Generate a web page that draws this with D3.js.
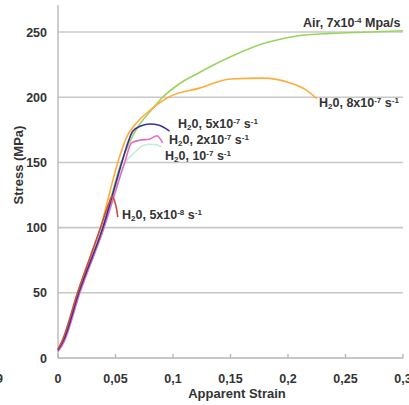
<!DOCTYPE html>
<html>
<head>
<meta charset="utf-8">
<title>Stress vs apparent strain</title>
<script src="https://d3js.org/d3.v7.min.js"></script>
<style>
body { margin: 0; background: #fff; }
text { font-family: "Liberation Sans", Arial, sans-serif; font-weight: bold; fill: #333; }
.grid { stroke: #c8c8c8; stroke-width: 1.6px; }
.axisline { stroke: #b4b4b4; stroke-width: 1.3px; fill: none; }
.curve { fill: none; stroke-width: 1.6px; }
</style>
</head>
<body>
<script>
// tick values
var xTicks = [0, 0.05, 0.1, 0.15, 0.2, 0.25, 0.3];
var xTickLabels = ["0", "0,05", "0,1", "0,15", "0,2", "0,25", "0,3"];
var yTicks = [0, 50, 100, 150, 200, 250];

// curves: [strain, stress MPa]
var airData = [[0,6],[0.005,14],[0.018,50],[0.039,100],[0.055,150],[0.062,165],[0.07,178],[0.08,189],[0.091,200],[0.105,210],[0.123,219],[0.15,231],[0.178,241],[0.208,247],[0.237,249],[0.271,250],[0.3,251]];
var h8e7Data = [[0,5],[0.004,12],[0.017,50],[0.037,100],[0.052,150],[0.06,170],[0.068,180],[0.08,190],[0.096,200],[0.123,207],[0.15,214],[0.178,214.7],[0.202,211],[0.215,206],[0.225,199]];
var h1e7Data = [[0,5],[0.005,12],[0.019,50],[0.04,100],[0.057,148],[0.067,158],[0.074,163],[0.08,164],[0.086,163.5],[0.09,162]];
var h2e7Data = [[0,5],[0.005,12],[0.019,50],[0.04,100],[0.058,150],[0.064,165],[0.071,167],[0.08,168],[0.086,170.5],[0.091,165]];
var h5e7Data = [[0,6],[0.005,14],[0.018,50],[0.039,100],[0.0555,150],[0.06,163],[0.065,174],[0.072,178],[0.08,179.5],[0.088,178.5],[0.097,174]];
var h5e8Data = [[0,7],[0.003,12],[0.017,50],[0.037,100],[0.044,118],[0.047,124],[0.049,121],[0.051,114],[0.052,108]];

var series = [
  {data: airData, color: "#9bd45c"},
  {data: h8e7Data, color: "#ffac3e"},
  {data: h1e7Data, color: "#c3eed6"},
  {data: h2e7Data, color: "#e36cc6"},
  {data: h5e7Data, color: "#3b2f94"},
  {data: h5e8Data, color: "#c9503a"}
];

// curve labels, split into plain / sub / sup pieces
var labels = [
  {x: 303, y: 27, parts: [["Air, 7x10",""],["-4","sup"],[" Mpa/s",""]]},
  {x: 319, y: 107, parts: [["H",""],["2","sub"],["0, 8x10",""],["-7","sup"],[" s",""],["-1","sup"]]},
  {x: 178, y: 128, parts: [["H",""],["2","sub"],["0, 5x10",""],["-7","sup"],[" s",""],["-1","sup"]]},
  {x: 169, y: 144, parts: [["H",""],["2","sub"],["0, 2x10",""],["-7","sup"],[" s",""],["-1","sup"]]},
  {x: 165, y: 160, parts: [["H",""],["2","sub"],["0, 10",""],["-7","sup"],[" s",""],["-1","sup"]]},
  {x: 122, y: 219, parts: [["H",""],["2","sub"],["0, 5x10",""],["-8","sup"],[" s",""],["-1","sup"]]}
];

var width = 409, height = 405;
var svg = d3.select("body").append("svg")
  .attr("width", width).attr("height", height);

var x = d3.scaleLinear().domain([0, 0.3]).range([58, 403]);
var y = d3.scaleLinear().domain([0, 270]).range([358, 6]);

// gridlines
svg.selectAll(".grid").data(yTicks.slice(1)).enter().append("line")
  .attr("class", "grid")
  .attr("x1", x(0)).attr("x2", x(0.3))
  .attr("y1", function(d){ return y(d); }).attr("y2", function(d){ return y(d); });

// axes
svg.append("line").attr("class", "axisline")
  .attr("x1", x(0)).attr("x2", x(0)).attr("y1", y(0)).attr("y2", 5);
svg.append("line").attr("class", "axisline")
  .attr("x1", x(0)).attr("x2", x(0.3)).attr("y1", y(0)).attr("y2", y(0));
svg.selectAll(".xtick").data(xTicks).enter().append("line")
  .attr("class", "axisline")
  .attr("x1", function(d){ return x(d); }).attr("x2", function(d){ return x(d); })
  .attr("y1", y(0)).attr("y2", y(0) - 4);

svg.selectAll(".ylab").data(yTicks).enter().append("text")
  .attr("x", 47).attr("y", function(d){ return y(d) + 4.5; })
  .attr("text-anchor", "end").style("font-size", "12.5px")
  .text(function(d){ return d; });

svg.selectAll(".xlab").data(xTicks).enter().append("text")
  .attr("x", function(d){ return x(d); }).attr("y", 383)
  .attr("text-anchor", "middle").style("font-size", "12.5px")
  .text(function(d, i){ return xTickLabels[i]; });

// clipped label at the left edge
svg.append("text").attr("x", -4).attr("y", 383).style("font-size", "12.5px").text("9");

svg.append("text").attr("x", 237).attr("y", 398)
  .attr("text-anchor", "middle").style("font-size", "13px").text("Apparent Strain");
svg.append("text")
  .attr("transform", "translate(23,165) rotate(-90)")
  .attr("text-anchor", "middle").style("font-size", "13px").text("Stress (MPa)");

// curves
var line = d3.line()
  .x(function(d){ return x(d[0]); })
  .y(function(d){ return y(d[1]); })
  .curve(d3.curveMonotoneX);

svg.selectAll(".curve").data(series).enter().append("path")
  .attr("class", "curve")
  .attr("stroke", function(d){ return d.color; })
  .attr("d", function(d){ return line(d.data); });

// curve labels
labels.forEach(function(l){
  var t = svg.append("text").attr("x", l.x).attr("y", l.y).style("font-size", "12.5px");
  l.parts.forEach(function(p){
    var ts = t.append("tspan").text(p[0]);
    if (p[1] === "sup") ts.attr("baseline-shift", "4px").style("font-size", "8px");
    if (p[1] === "sub") ts.attr("baseline-shift", "-2px").style("font-size", "8px");
  });
});
</script>
</body>
</html>
